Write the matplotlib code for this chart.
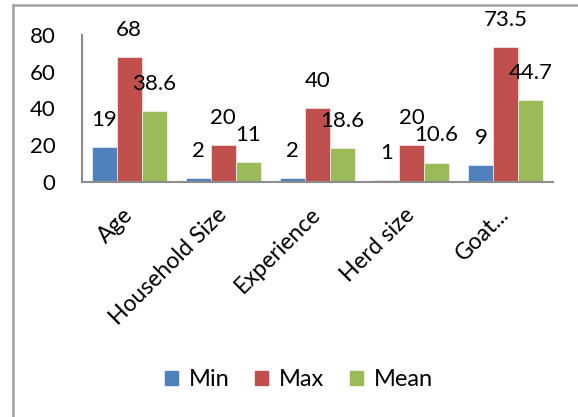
import matplotlib
matplotlib.use("Agg")
import matplotlib.pyplot as plt
import matplotlib.transforms as mtransforms
import numpy as np
from matplotlib.lines import Line2D

plt.rcParams['font.family'] = ['Lato', 'DejaVu Sans']

categories = ["Age", "Household Size", "Experience", "Herd size", "Goat..."]
series_names = ["Min", "Max", "Mean"]
min_vals = [19, 2, 2, 1, 9]
max_vals = [68, 20, 40, 20, 73.5]
mean_vals = [38.6, 11, 18.6, 10.6, 44.7]
label_texts = [["19", "2", "2", "1", "9"],
               ["68", "20", "40", "20", "73.5"],
               ["38.6", "11", "18.6", "10.6", "44.7"]]
yticks = [0, 20, 40, 60, 80]
colors = ["#4F81BD", "#C0504D", "#9BBB59"]

fig = plt.figure(figsize=(5.78, 4.17), dpi=100)
ax = fig.add_axes([82/578, 1-182/417, (553-82)/578, (182-35)/417])

x = np.arange(len(categories))
w = 0.265
fs = 16
series = [min_vals, max_vals, mean_vals]
for i, (vals, c) in enumerate(zip(series, colors)):
    pos = x + (i - 1) * w
    bars = ax.bar(pos, vals, width=w, color=c, edgecolor='white', linewidth=0.4,
                  label=series_names[i], zorder=2)
    for b, v, t in zip(bars, vals, label_texts[i]):
        ax.annotate(t, (b.get_x() + b.get_width()/2, v), xytext=(0, 19.5),
                    textcoords='offset points', ha='center', va='center',
                    fontsize=fs, color='black', zorder=3)

ax.set_xlim(-0.5, len(categories) - 0.5)
ax.set_ylim(0, 80)
ax.set_yticks(yticks)
ax.set_yticklabels([str(t) for t in yticks], fontsize=fs)
ax.set_xticks(x)
ax.set_xticklabels(categories, rotation=45, ha='right', va='center',
                   rotation_mode='anchor', fontsize=16.5)
offset = mtransforms.ScaledTranslation(-9/100, 0, fig.dpi_scale_trans)
for lbl in ax.get_xticklabels():
    lbl.set_transform(lbl.get_transform() + offset)
ax.tick_params(axis='both', length=0)
ax.tick_params(axis='y', pad=19)
ax.tick_params(axis='x', pad=21)
for s in ['top', 'right']:
    ax.spines[s].set_visible(False)
for s in ['left', 'bottom']:
    ax.spines[s].set_color('#8c8c8c')
    ax.spines[s].set_linewidth(1.5)

handles = [plt.Rectangle((0, 0), 1, 1, color=c) for c in colors]
fig.legend(handles, series_names, loc='center', bbox_to_anchor=(299/578, 1-380/417),
           ncol=3, frameon=False, fontsize=17, handlelength=0.55, handleheight=0.55,
           handletextpad=0.45, columnspacing=1.1)

# outer chart frame (left and top edges)
fig.add_artist(Line2D([13/578, 13/578], [0, 1-5/417], transform=fig.transFigure,
                      color='#a0a0a0', linewidth=1.8))
fig.add_artist(Line2D([13/578, 1], [1-5/417, 1-5/417], transform=fig.transFigure,
                      color='#a0a0a0', linewidth=1.8))

fig.savefig("out.png", dpi=100, facecolor='white')
